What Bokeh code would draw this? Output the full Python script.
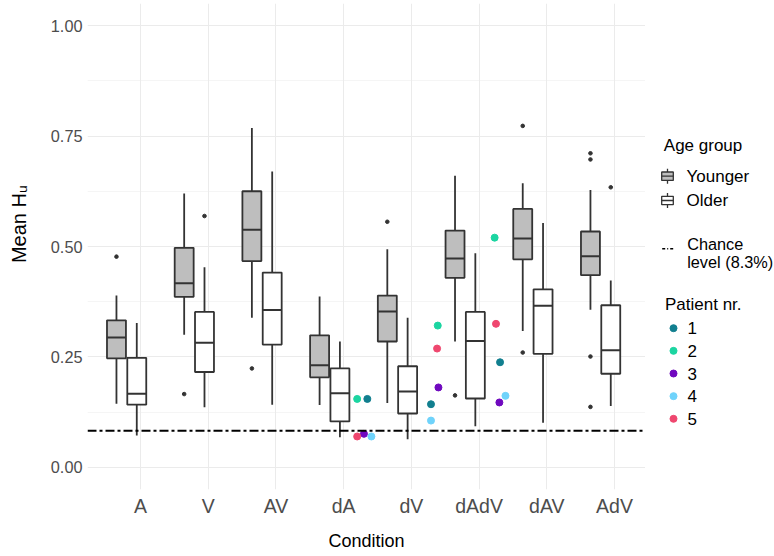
import numpy as np
from bokeh.plotting import figure
from bokeh.layouts import row
from bokeh.models import Range1d, FixedTicker, Span, NumeralTickFormatter
from bokeh.core.properties import value
from bokeh.embed import file_html
from bokeh.resources import INLINE

conditions = ["A", "V", "AV", "dA", "dV", "dAdV", "dAV", "AdV"]

# box statistics: lower whisker, Q1, median, Q3, upper whisker
younger_low = [0.144, 0.300, 0.339, 0.141, 0.146, 0.285, 0.309, 0.357]
younger_q1 = [0.247, 0.386, 0.467, 0.204, 0.285, 0.429, 0.471, 0.435]
younger_med = [0.294, 0.417, 0.538, 0.231, 0.353, 0.473, 0.518, 0.478]
younger_q3 = [0.333, 0.497, 0.625, 0.299, 0.389, 0.536, 0.585, 0.534]
younger_high = [0.389, 0.620, 0.768, 0.387, 0.494, 0.660, 0.643, 0.628]
younger_out_cond = ["A", "V", "AV", "dV", "dAdV", "dAV", "dAV", "AdV", "AdV", "AdV", "AdV"]
younger_out_val = [0.477, 0.166, 0.224, 0.556, 0.163, 0.773, 0.260, 0.711, 0.697, 0.251, 0.137]

older_low = [0.072, 0.136, 0.142, 0.068, 0.064, 0.093, 0.101, 0.139]
older_q1 = [0.142, 0.216, 0.278, 0.104, 0.122, 0.156, 0.257, 0.212]
older_med = [0.167, 0.282, 0.356, 0.168, 0.172, 0.286, 0.366, 0.265]
older_q3 = [0.248, 0.352, 0.441, 0.224, 0.229, 0.352, 0.403, 0.367]
older_high = [0.327, 0.453, 0.670, 0.285, 0.339, 0.485, 0.553, 0.423]
older_out_cond = ["V", "AdV"]
older_out_val = [0.569, 0.634]

age_groups = ["Younger", "Older"]
age_fills = ["#BEBEBE", "#FFFFFF"]

patient_ids = ["1", "2", "3", "4", "5"]
patient_conditions = ["dA", "dV", "dAdV"]
patient_scores = [
    [0.155, 0.143, 0.238],
    [0.155, 0.321, 0.520],
    [0.076, 0.181, 0.147],
    [0.070, 0.106, 0.162],
    [0.070, 0.269, 0.325],
]
# horizontal jitter of the patient points (category units)
patient_jitter = [
    [0.35, 0.29, 0.31],
    [0.20, 0.39, 0.23],
    [0.30, 0.40, 0.30],
    [0.41, 0.29, 0.39],
    [0.20, 0.38, 0.25],
]
patient_colors = ["#117F8F", "#1BD5A1", "#7009BF", "#6FD3FB", "#EF476F"]

chance_level = 0.083

FONT = "Liberation Sans"
LINE = "#333333"
BOX_W = 0.28
OFFSETS = [-0.355, -0.055]
TOP, BOTTOM = 3, 67

xpos = {c: i + 1 for i, c in enumerate(conditions)}
idx = np.arange(1, len(conditions) + 1)

p = figure(width=645, height=556,
           x_range=Range1d(0.2173, 8.458), y_range=Range1d(-0.05, 1.05),
           output_backend="svg", toolbar_location=None,
           min_border_left=87, min_border_right=0, min_border_top=TOP, min_border_bottom=BOTTOM)
p.outline_line_color = None


def draw_boxes(offset, low, q1, med, q3, high, out_cond, out_val, fill):
    x = idx + offset
    p.segment(x, q3, x, high, line_color=LINE, line_width=1.8)
    p.segment(x, low, x, q1, line_color=LINE, line_width=1.8)
    p.quad(left=x - BOX_W / 2, right=x + BOX_W / 2, bottom=q1, top=q3,
           fill_color=fill, line_color=LINE, line_width=1.8)
    p.segment(x - BOX_W / 2, med, x + BOX_W / 2, med, line_color=LINE, line_width=2)
    ox = [xpos[c] + offset for c in out_cond]
    p.scatter(ox, out_val, size=3.6, color=LINE)


draw_boxes(OFFSETS[0], younger_low, younger_q1, younger_med, younger_q3, younger_high,
           younger_out_cond, younger_out_val, age_fills[0])
draw_boxes(OFFSETS[1], older_low, older_q1, older_med, older_q3, older_high,
           older_out_cond, older_out_val, age_fills[1])

p.add_layout(Span(location=chance_level, dimension="width", line_color="black",
                  line_width=1.8, line_dash="9 3 3 3"))

for pid, scores, jit, col in zip(patient_ids, patient_scores, patient_jitter, patient_colors):
    px = [xpos[c] + j for c, j in zip(patient_conditions, jit)]
    p.scatter(px, scores, size=7, color=col)

xt = FixedTicker(ticks=[int(i) for i in idx], minor_ticks=[])
p.xaxis.ticker = xt
p.xgrid.ticker = xt
p.xaxis.major_label_overrides = {int(i): c for i, c in zip(idx, conditions)}
yt = FixedTicker(ticks=[0, 0.25, 0.5, 0.75, 1.0], minor_ticks=[0.125, 0.375, 0.625, 0.875])
p.yaxis.ticker = yt
p.ygrid.ticker = yt
p.yaxis.formatter = NumeralTickFormatter(format="0.00")

p.grid.grid_line_color = "#EBEBEB"
p.grid.grid_line_width = 1
p.ygrid.minor_grid_line_color = "#EBEBEB"
p.ygrid.minor_grid_line_width = 0.5

for ax in p.axis:
    ax.axis_line_color = None
    ax.major_tick_line_color = None
    ax.minor_tick_line_color = None
    ax.major_tick_out = 0
    ax.minor_tick_out = 0
    ax.major_label_standoff = 5
    ax.major_label_text_color = "#4D4D4D"
    ax.major_label_text_font = FONT
    ax.axis_label_text_font = FONT
    ax.axis_label_text_font_style = "normal"
    ax.axis_label_text_color = "black"

p.xaxis.major_label_text_font_size = "19.5px"
p.xaxis.axis_label = "Condition"
p.xaxis.axis_label_text_font_size = "18px"
p.xaxis.axis_label_standoff = 11
p.yaxis.major_label_text_font_size = "16.3px"
# leading figure spaces lift the title a little above the panel centre, as in the original
p.yaxis.axis_label = "\u2007" * 4 + "Mean H\u1d64"
p.yaxis.axis_label_text_font_size = "20px"
p.yaxis.axis_label_standoff = 18

# legend panel: same vertical borders as the plot, coordinates in pixels
leg = figure(width=129, height=556, x_range=Range1d(0, 129), y_range=Range1d(556 - BOTTOM, TOP),
             output_backend="svg", toolbar_location=None,
             min_border_left=0, min_border_right=0, min_border_top=TOP, min_border_bottom=BOTTOM,
             x_axis_location=None, y_axis_location=None)
leg.grid.visible = False
leg.outline_line_color = None


def leg_text(x, y, txt, size="17px"):
    leg.text([x], [y], text=[txt], text_font=value(FONT), text_font_size=size,
             text_baseline="middle", text_align="left", text_color="black")


leg_text(18.3, 145, "Age group")
for i, (name, fill) in enumerate(zip(age_groups, age_fills)):
    cy = 175.7 + i * 24.3
    cx = 22
    leg.segment([cx, cx], [cy - 7.5, cy + 4.2], [cx, cx], [cy - 4.2, cy + 7.5],
                line_color=LINE, line_width=1.3)
    leg.quad(left=[cx - 5.8], right=[cx + 5.8], top=[cy - 4.2], bottom=[cy + 4.2],
             fill_color=fill, line_color=LINE, line_width=1.3)
    leg.segment([cx - 5.8], [cy], [cx + 5.8], [cy], line_color=LINE, line_width=1.3)
    leg_text(41, cy, name)

leg.segment([16.7], [248.3], [28.3], [248.3], line_color="black", line_width=1.5,
            line_dash="3 2 1 2")
leg_text(41.7, 243.3, "Chance", "16.3px")
leg_text(41.7, 261.7, "level (8.3%)", "16.3px")

leg_text(19.5, 304.3, "Patient nr.")
for i, (pid, col) in enumerate(zip(patient_ids, patient_colors)):
    cy = 327.7 + i * 22.65
    leg.scatter([28], [cy], size=7, color=col)
    leg_text(42, cy, pid)

layout = row(p, leg)
open("out.html", "w").write(file_html(layout, INLINE))
